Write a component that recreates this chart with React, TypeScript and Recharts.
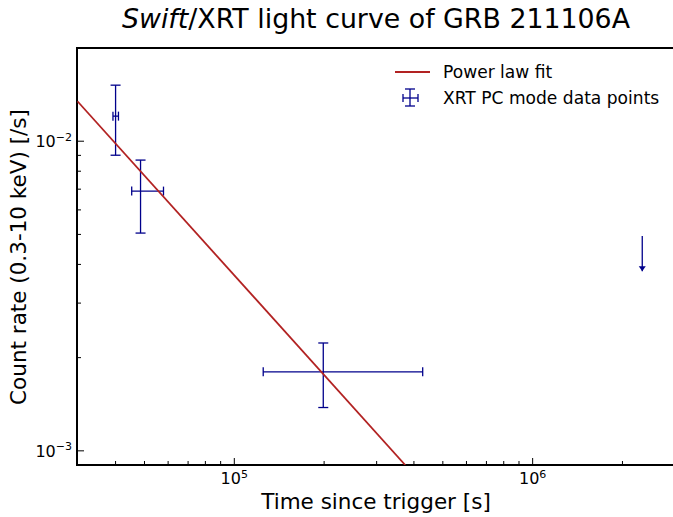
import React from 'react';
import { ScatterChart, Scatter, XAxis, YAxis, ErrorBar, ReferenceArea } from 'recharts';

// detections (XRT PC mode)
const detTime = [40000, 48500, 198700];
const detRate = [0.01205, 0.0069, 0.0018];
const timeErrLow = [800, 3200, 73700];
const timeErrHigh = [900, 9400, 229300];
const rateErrLow = [0.00304, 0.00185, 0.00042];
const rateErrHigh = [0.00312, 0.00179, 0.00043];

// upper limit: start of arrow and arrow tip
const limitTime = [2330000, 2330000];
const limitRate = [0.00494, 0.0038];

// power law fit endpoints
const fitTime = [29800, 374000];
const fitRate = [0.01346, 0.0009];

const xTicks = [40000, 50000, 60000, 70000, 80000, 90000, 100000, 200000, 300000, 400000, 500000, 600000, 700000, 800000, 900000, 1000000, 2000000];
const yTicks = [0.001, 0.002, 0.003, 0.004, 0.005, 0.006, 0.007, 0.008, 0.009, 0.01];

const FONT = '"DejaVu Sans", sans-serif';
const BLUE = '#00008b';
const RED = '#b22222';

const detData = detTime.map((t, i) => ({
  t,
  r: detRate[i],
  tErr: [timeErrLow[i], timeErrHigh[i]],
  rErr: [rateErrLow[i], rateErrHigh[i]],
}));
const limitData = limitTime.map((t, i) => ({ t, r: limitRate[i], tip: i === limitTime.length - 1 }));
const fitData = fitTime.map((t, i) => ({ t, r: fitRate[i] }));

function decade(v: number) {
  const e = Math.log10(v);
  const r = Math.round(e);
  return Math.abs(e - r) < 1e-6 ? r : null;
}

const XTick = (props: any) => {
  const { x, y, payload } = props;
  const exp = decade(payload.value);
  const major = exp !== null;
  return (
    <g>
      <line x1={x} x2={x} y1={y} y2={y - (major ? 7 : 4)} stroke="#000" strokeWidth={1} />
      {major && (
        <text x={x} y={y + 19} textAnchor="middle" fontSize={16} fontFamily={FONT} fill="#000">
          10<tspan dy={-6.5} fontSize={11}>{exp}</tspan>
        </text>
      )}
    </g>
  );
};

const YTick = (props: any) => {
  const { x, y, payload } = props;
  const exp = decade(payload.value);
  const major = exp !== null;
  return (
    <g>
      <line x1={x} x2={x + (major ? 7 : 4)} y1={y} y2={y} stroke="#000" strokeWidth={1} />
      {major && (
        <text x={x - 5} y={y + 6} textAnchor="end" fontSize={16} fontFamily={FONT} fill="#000">
          10<tspan dy={-6.5} fontSize={11}>{'\u2212' + Math.abs(exp as number)}</tspan>
        </text>
      )}
    </g>
  );
};

const NoMark = () => <g />;

const LimitArrow = (props: any) => {
  const { cx, cy, payload } = props;
  if (!payload || !payload.tip) return <g />;
  return <polygon points={`${cx - 3.5},${cy - 5} ${cx + 3.5},${cy - 5} ${cx},${cy}`} fill={BLUE} />;
};

export default function App() {
  return (
    <div style={{ position: 'absolute', left: 0, top: 0, width: 673, height: 517, overflow: 'hidden', background: '#fff' }}>
      <ScatterChart width={682} height={517} margin={{ top: 48, right: 7, bottom: 0, left: 0 }}>
        <XAxis
          type="number"
          dataKey="t"
          scale="log"
          domain={[29700, 3000000]}
          allowDataOverflow
          ticks={xTicks}
          interval={0}
          tick={<XTick />}
          tickLine={false}
          tickSize={0}
          tickMargin={0}
          axisLine={false}
          height={52}
        />
        <YAxis
          type="number"
          dataKey="r"
          scale="log"
          domain={[0.0009, 0.02]}
          allowDataOverflow
          ticks={yTicks}
          interval={0}
          tick={<YTick />}
          tickLine={false}
          tickSize={0}
          tickMargin={0}
          axisLine={false}
          width={77}
        />
        <Scatter data={fitData} fill={RED} line={{ stroke: RED, strokeWidth: 1.8 }} shape={NoMark} isAnimationActive={false} />
        <Scatter data={detData} fill={BLUE} shape={NoMark} isAnimationActive={false}>
          <ErrorBar dataKey="rErr" direction="y" width={5} stroke={BLUE} strokeWidth={1.3} />
          <ErrorBar dataKey="tErr" direction="x" width={4.5} stroke={BLUE} strokeWidth={1.3} />
        </Scatter>
        <Scatter data={limitData} fill={BLUE} line={{ stroke: BLUE, strokeWidth: 1.3 }} shape={LimitArrow} isAnimationActive={false} />
        <ReferenceArea x1={29700} x2={3000000} y1={0.0009} y2={0.02} fill="none" stroke="#000" strokeWidth={2} ifOverflow="extendDomain" />
      </ScatterChart>
      <svg width={673} height={517} style={{ position: 'absolute', left: 0, top: 0, pointerEvents: 'none' }}>
        <text x={376} y={28} textAnchor="middle" fontSize={26.8} fontFamily={FONT} fill="#000">
          <tspan fontStyle="italic">Swift</tspan>/XRT light curve of GRB 211106A
        </text>
        <text x={376} y={509} textAnchor="middle" fontSize={21.5} fontFamily={FONT} fill="#000">Time since trigger [s]</text>
        <text x={26} y={257} textAnchor="middle" fontSize={21.5} fontFamily={FONT} fill="#000" transform="rotate(-90 26 257)">
          Count rate (0.3-10 keV) [/s]
        </text>
        <line x1={395} x2={430} y1={72} y2={72} stroke={RED} strokeWidth={1.8} />
        <text x={443} y={78} fontSize={17.1} fontFamily={FONT} fill="#000">Power law fit</text>
        <g stroke={BLUE} strokeWidth={1.3}>
          <line x1={410} x2={410} y1={89} y2={106} />
          <line x1={405} x2={415} y1={89} y2={89} />
          <line x1={405} x2={415} y1={106} y2={106} />
          <line x1={403} x2={418} y1={98} y2={98} />
          <line x1={403} x2={403} y1={94} y2={102} />
          <line x1={418} x2={418} y1={94} y2={102} />
        </g>
        <text x={443} y={104} fontSize={17.1} fontFamily={FONT} fill="#000">XRT PC mode data points</text>
      </svg>
    </div>
  );
}
